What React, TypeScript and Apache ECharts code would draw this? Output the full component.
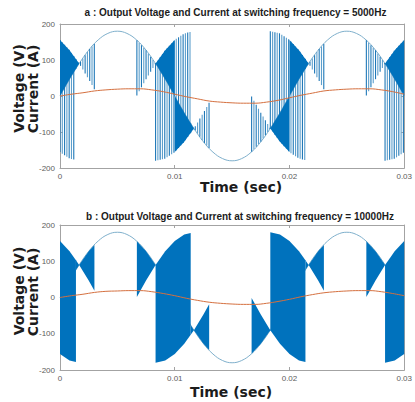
import React, { useEffect, useRef } from 'react';
import * as echarts from 'echarts';

// Sample instants of the three input-phase envelopes (s)
const sampleTimes = [0, 0.00083, 0.00167, 0.0025, 0.00333, 0.00417, 0.005, 0.00583, 0.00667, 0.0075, 0.00833, 0.00917, 0.01, 0.01083, 0.01167, 0.0125, 0.01333, 0.01417, 0.015, 0.01583, 0.01667, 0.0175, 0.01833, 0.01917, 0.02, 0.02083, 0.02167, 0.0225, 0.02333, 0.02417, 0.025, 0.02583, 0.02667, 0.0275, 0.02833, 0.02917, 0.03];
const phaseA = [0, 46.6, 90, 127.3, 155.9, 173.9, 180, 173.9, 155.9, 127.3, 90, 46.6, 0, -46.6, -90, -127.3, -155.9, -173.9, -180, -173.9, -155.9, -127.3, -90, -46.6, 0, 46.6, 90, 127.3, 155.9, 173.9, 180, 173.9, 155.9, 127.3, 90, 46.6, 0];
const phaseB = [-155.9, -173.9, -180, -173.9, -155.9, -127.3, -90, -46.6, 0, 46.6, 90, 127.3, 155.9, 173.9, 180, 173.9, 155.9, 127.3, 90, 46.6, 0, -46.6, -90, -127.3, -155.9, -173.9, -180, -173.9, -155.9, -127.3, -90, -46.6, 0, 46.6, 90, 127.3, 155.9];
const phaseC = [155.9, 127.3, 90, 46.6, 0, -46.6, -90, -127.3, -155.9, -173.9, -180, -173.9, -155.9, -127.3, -90, -46.6, 0, 46.6, 90, 127.3, 155.9, 173.9, 180, 173.9, 155.9, 127.3, 90, 46.6, 0, -46.6, -90, -127.3, -155.9, -173.9, -180, -173.9, -155.9];

// Load current (A)
const currentTimes = [0, 0.001, 0.002, 0.003, 0.004, 0.005, 0.006, 0.007, 0.008, 0.009, 0.01, 0.011, 0.012, 0.013, 0.014, 0.015, 0.016, 0.017, 0.018, 0.019, 0.02, 0.021, 0.022, 0.023, 0.024, 0.025, 0.026, 0.027, 0.028, 0.029, 0.03];
const current5k = [0, 5, 9, 14, 17, 19, 20, 20, 17, 12, 5, -2, -8, -14, -17, -19, -20, -20, -17, -12, -5, 2, 8, 14, 17, 19, 20, 20, 17, 12, 5];
const current10k = [0, 5, 9, 14, 17, 18, 19, 19, 16, 11, 5, -2, -8, -13, -16, -18, -19, -19, -16, -11, -5, 2, 8, 13, 16, 18, 19, 19, 16, 11, 5];

// Switched segments: [start, end, upper phase, lower phase]
const fullBands: [number, number, string, string][] = [
  [0, 0.00139, 'C', 'B'],
  [0.00833, 0.01139, 'B', 'C'],
  [0.01833, 0.02139, 'C', 'B'],
  [0.02833, 0.03, 'B', 'C'],
];
const crossBands: [number, number, string, string][] = [
  [0.00139, 0.003, 'A', 'C'],
  [0.0067, 0.00833, 'A', 'B'],
  [0.01139, 0.013, 'A', 'C'],
  [0.0167, 0.01833, 'A', 'B'],
  [0.02139, 0.023, 'A', 'C'],
  [0.0267, 0.02833, 'A', 'B'],
];
// Densely switched regions at 5000 Hz
const denseRegions: [number, number, string, string][] = [
  [0, 0.00167, 'A', 'C'],
  [0.00833, 0.01, 'A', 'B'],
  [0.01, 0.01167, 'A', 'C'],
  [0.01833, 0.02, 'A', 'B'],
  [0.02, 0.02167, 'A', 'C'],
  [0.02833, 0.03, 'A', 'B'],
];

const switchingFrequencies = [5000, 10000];
const titles = [
  'a : Output Voltage and Current at switching frequency = 5000Hz',
  'b : Output Voltage and Current at switching frequency = 10000Hz',
];
const xTickLabels = ['0', '0.01', '0.02', '0.03'];
const yTickLabels = ['-200', '-100', '0', '100', '200'];

const PHASES: Record<string, number[]> = { A: phaseA, B: phaseB, C: phaseC };
const allBands = [...fullBands, ...crossBands];

function envelope(name: string, t: number): number {
  const arr = PHASES[name];
  const n = sampleTimes.length;
  if (t <= sampleTimes[0]) return arr[0];
  for (let i = 0; i < n - 1; i++) {
    const t0 = sampleTimes[i];
    const t1 = sampleTimes[i + 1];
    if (t <= t1) {
      const f = (t - t0) / (t1 - t0);
      return arr[i] + f * (arr[i + 1] - arr[i]);
    }
  }
  return arr[n - 1];
}

function edge(name: string, s: number, e: number, api: any) {
  const pts: number[][] = [[s, envelope(name, s)]];
  sampleTimes.forEach((t, i) => {
    if (t > s + 1e-7 && t < e - 1e-7) pts.push([t, PHASES[name][i]]);
  });
  pts.push([e, envelope(name, e)]);
  return pts.map((p) => api.coord(p));
}

function polygonFor(band: [number, number, string, string], api: any, fill: string) {
  const [s, e, up, lo] = band;
  const top = edge(up, s, e, api);
  const bottom = edge(lo, s, e, api).reverse();
  return { type: 'polygon', shape: { points: top.concat(bottom) }, style: { fill } };
}

const FONT = 'Liberation Sans, Arial, sans-serif';
const AXIS_COLOR = '#a3a3a3';
const LABEL_COLOR = '#5c5c5c';
const BLUE = '#0072bd';
const THIN = '#7fb0cc';
const ORANGE = '#d5703f';
const TEXT = '#1c1c1c';

function xAxisPair(grid: number) {
  const base = {
    type: 'value',
    gridIndex: grid,
    min: 0,
    max: 0.03,
    interval: 0.01,
    axisLine: { show: true, onZero: false, lineStyle: { color: AXIS_COLOR, width: 1 } },
    axisTick: { show: true, inside: true, length: 3, lineStyle: { color: AXIS_COLOR } },
    splitLine: { show: false },
  };
  return [
    {
      ...base,
      position: 'bottom',
      axisLabel: {
        show: true, fontSize: 8, color: LABEL_COLOR, margin: 4, fontFamily: FONT,
        formatter: (_v: number, i: number) => xTickLabels[i] ?? '',
      },
    },
    { ...base, position: 'top', axisLabel: { show: false } },
  ];
}

function yAxisPair(grid: number) {
  const base = {
    type: 'value',
    gridIndex: grid,
    min: -200,
    max: 200,
    interval: 100,
    axisLine: { show: true, onZero: false, lineStyle: { color: AXIS_COLOR, width: 1 } },
    axisTick: { show: true, inside: true, length: 3, lineStyle: { color: AXIS_COLOR } },
    splitLine: { show: false },
  };
  return [
    {
      ...base,
      position: 'left',
      axisLabel: {
        show: true, fontSize: 8, color: LABEL_COLOR, margin: 5, fontFamily: FONT,
        formatter: (_v: number, i: number) => yTickLabels[i] ?? '',
      },
    },
    { ...base, position: 'right', axisLabel: { show: false } },
  ];
}

function thinLine(xi: number, yi: number) {
  return {
    type: 'line', xAxisIndex: xi, yAxisIndex: yi, z: 1,
    data: sampleTimes.map((t, i) => [t, phaseA[i]]),
    showSymbol: false, smooth: 0.4,
    lineStyle: { color: THIN, width: 1 },
  };
}

function currentLine(xi: number, yi: number, values: number[]) {
  return {
    type: 'line', xAxisIndex: xi, yAxisIndex: yi, z: 5,
    data: currentTimes.map((t, i) => [t, values[i]]),
    showSymbol: false, smooth: 0.4,
    lineStyle: { color: ORANGE, width: 1 },
  };
}

function label(text: string, x: number, y: number, size: number, family: string, rotate = false) {
  return {
    type: 'text', x, y, rotation: rotate ? Math.PI / 2 : 0,
    style: { text, fontSize: size, fontWeight: 'bold', fill: TEXT, align: 'center', verticalAlign: 'middle', fontFamily: family },
  };
}

export default function App() {
  const ref = useRef<HTMLDivElement>(null);
  useEffect(() => {
    if (!ref.current) return;
    const chart = echarts.init(ref.current, undefined, { renderer: 'svg' });
    const period5k = 1 / switchingFrequencies[0];

    const option: any = {
      animation: false,
      backgroundColor: '#ffffff',
      textStyle: { fontFamily: FONT },
      grid: [
        { left: 60, right: 7, top: 24, height: 144 },
        { left: 60, right: 7, top: 225, height: 145 },
      ],
      xAxis: [...xAxisPair(0), ...xAxisPair(1)],
      yAxis: [...yAxisPair(0), ...yAxisPair(1)],
      series: [
        thinLine(0, 0),
        {
          type: 'custom', xAxisIndex: 0, yAxisIndex: 0, z: 2, clip: true,
          data: allBands.map((b) => [b[0], b[1]]),
          renderItem: (params: any, api: any) => {
            const [s, e, up, lo] = allBands[params.dataIndex];
            const children: any[] = [];
            let j = 0;
            for (let t = s; t <= e + 1e-9; t += period5k, j++) {
              const p1 = api.coord([t, envelope(up, t)]);
              const p2 = api.coord([t, envelope(lo, t)]);
              children.push({
                type: 'line',
                shape: { x1: p1[0], y1: p1[1], x2: p2[0], y2: p2[1] },
                style: { stroke: j % 2 ? '#5d9fcc' : '#1f78b8', lineWidth: 1.1 },
              });
            }
            return { type: 'group', children };
          },
        },
        {
          type: 'custom', xAxisIndex: 0, yAxisIndex: 0, z: 3, clip: true,
          data: denseRegions.map((b) => [b[0], b[1]]),
          renderItem: (params: any, api: any) => polygonFor(denseRegions[params.dataIndex], api, BLUE),
        },
        currentLine(0, 0, current5k),

        thinLine(2, 2),
        {
          type: 'custom', xAxisIndex: 2, yAxisIndex: 2, z: 2, clip: true,
          data: allBands.map((b) => [b[0], b[1]]),
          renderItem: (params: any, api: any) => polygonFor(allBands[params.dataIndex], api, BLUE),
        },
        currentLine(2, 2, current10k),
      ],
      graphic: [
        label(titles[0], 235.5, 12.5, 10, FONT),
        label(titles[1], 240, 216, 10, FONT),
        label('Time (sec)', 241, 187, 14, 'DejaVu Sans'),
        label('Time (sec)', 231, 392, 14, 'DejaVu Sans'),
        label('Voltage (V)', 18.5, 88.5, 14, 'DejaVu Sans', true),
        label('Current (A)', 33, 89, 14, 'DejaVu Sans', true),
        label('Voltage (V)', 18.5, 291, 14, 'DejaVu Sans', true),
        label('Current (A)', 33, 292, 14, 'DejaVu Sans', true),
      ],
    };
    chart.setOption(option);
    return () => chart.dispose();
  }, []);
  return <div ref={ref} style={{ position: 'fixed', left: 0, top: 0, width: 415, height: 402 }} />;
}
